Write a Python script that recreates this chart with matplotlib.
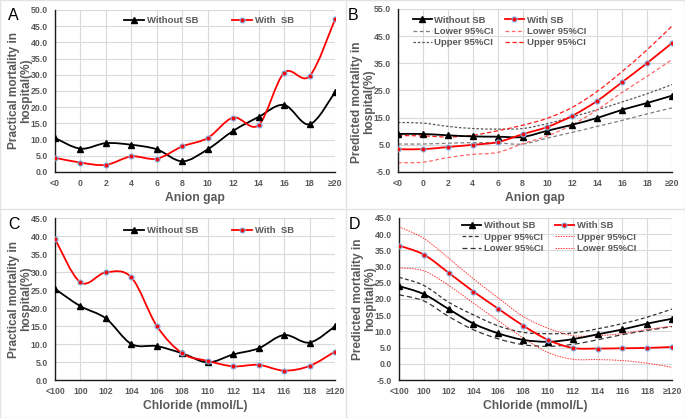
import matplotlib
matplotlib.use("Agg")
import matplotlib.pyplot as plt
from matplotlib.path import Path
from matplotlib.patches import PathPatch
from matplotlib.lines import Line2D

plt.rcParams['font.family'] = ['Liberation Sans', 'DejaVu Sans']

# ---------------- data ----------------
ag_labels = ['<0', '0', '2', '4', '6', '8', '10', '12', '14', '16', '18', '≥20']
cl_labels = ['<100', '100', '102', '104', '106', '108', '110', '112', '114', '116', '118', '≥120']

# Panel A: practical mortality vs anion gap
a_without = [10.5, 7.2, 8.9, 8.4, 7.0, 3.3, 7.0, 12.7, 17.0, 20.7, 14.7, 24.6]
a_with = [4.4, 2.9, 2.2, 4.8, 4.1, 7.9, 10.5, 16.8, 14.5, 30.6, 29.6, 47.1]

# Panel B: predicted mortality vs anion gap
b_without = [9.0, 9.0, 8.5, 8.1, 8.0, 7.9, 10.2, 12.4, 14.9, 17.9, 20.4, 23.1]
b_with = [3.4, 3.4, 4.2, 5.0, 6.0, 8.9, 11.6, 15.7, 21.2, 28.1, 35.1, 42.5]
b_without_lo = [5.3, 5.3, 5.6, 5.8, 5.7, 5.3, 7.5, 9.6, 11.8, 14.0, 16.4, 18.6]
b_without_hi = [13.2, 13.0, 11.8, 11.0, 10.8, 11.0, 12.8, 15.3, 17.9, 20.8, 23.8, 27.2]
b_with_lo = [-1.6, -1.4, 0.3, 1.5, 2.2, 5.4, 8.3, 12.4, 17.9, 24.3, 30.2, 36.4]
b_with_hi = [8.4, 8.3, 7.9, 8.5, 10.2, 12.2, 14.8, 18.8, 24.7, 32.0, 40.0, 48.7]

# Panel C: practical mortality vs chloride
c_without = [25.3, 20.5, 17.1, 10.0, 9.4, 7.4, 4.9, 7.1, 8.8, 12.5, 10.4, 14.9]
c_with = [39.2, 27.1, 29.9, 28.5, 15.0, 7.4, 5.3, 3.8, 4.2, 2.6, 3.9, 7.9]

# Panel D: predicted mortality vs chloride
d_without = [24.0, 21.5, 16.9, 12.4, 9.4, 7.4, 6.8, 7.6, 9.1, 10.6, 12.4, 13.9]
d_with = [36.5, 33.7, 28.1, 22.3, 17.0, 11.8, 7.4, 4.9, 4.7, 4.8, 4.9, 5.2]
d_without_hi = [26.7, 24.2, 19.0, 15.1, 11.7, 9.7, 9.3, 9.5, 10.8, 12.4, 14.4, 16.9]
d_without_lo = [21.3, 19.4, 14.6, 10.5, 7.7, 5.9, 5.4, 6.0, 7.4, 9.0, 10.3, 11.5]
d_with_hi = [42.3, 38.7, 32.6, 26.2, 20.3, 14.6, 11.0, 8.7, 8.7, 9.3, 10.6, 11.6]
d_with_lo = [29.6, 28.7, 24.2, 18.7, 13.3, 8.0, 3.5, 1.4, 1.3, 1.0, 0.2, -1.1]

# ---------------- style ----------------
RED = '#ff0000'
GRAY_TXT = '#595959'
GRID = '#d9d9d9'
W, H = 685, 418

fig = plt.figure(figsize=(6.85, 4.18), dpi=100)


def ax_at(l, t, r, b):
    return fig.add_axes([l / W, 1 - b / H, (r - l) / W, (b - t) / H])


def smooth(ax, y, color, lw, dashes=None, zorder=3):
    x = list(range(len(y)))
    n = len(x)
    verts = [(x[0], y[0])]
    codes = [Path.MOVETO]
    for i in range(n - 1):
        p0 = i - 1 if i > 0 else i
        p3 = i + 2 if i + 2 < n else i + 1
        c1 = (x[i] + (x[i + 1] - x[p0]) / 6.0, y[i] + (y[i + 1] - y[p0]) / 6.0)
        c2 = (x[i + 1] - (x[p3] - x[i]) / 6.0, y[i + 1] - (y[p3] - y[i]) / 6.0)
        verts += [c1, c2, (x[i + 1], y[i + 1])]
        codes += [Path.CURVE4] * 3
    patch = PathPatch(Path(verts, codes), fill=False, edgecolor=color, lw=lw,
                      zorder=zorder, capstyle='butt')
    if dashes is not None:
        patch.set_linestyle((0, dashes))
    ax.add_patch(patch)


def markers_without(ax, y):
    ax.plot(range(len(y)), y, ls='none', marker='^', ms=4.5, color='black', zorder=5)


def markers_with(ax, y):
    ax.plot(range(len(y)), y, ls='none', marker='o', ms=3.6, mfc=RED,
            mec='#7fb2e5', mew=0.8, zorder=5)


def setup(ax, labels, ymin, ymax, step, ylabel, xlabel, label_y=0.5):
    ax.set_xlim(0, len(labels) - 1)
    ax.set_ylim(ymin, ymax)
    ax.set_xticks(range(len(labels)))
    ax.set_xticklabels(labels)
    ticks = []
    v = ymin
    while v <= ymax + 1e-9:
        ticks.append(v)
        v += step
    ax.set_yticks(ticks)
    ax.set_yticklabels([f'{t:.1f}' for t in ticks])
    ax.grid(True, color=GRID, lw=0.8, zorder=0)
    ax.set_axisbelow(True)
    for s in ['top', 'right']:
        ax.spines[s].set_visible(False)
    for s in ['left', 'bottom']:
        ax.spines[s].set_color('#1a1a1a')
        ax.spines[s].set_linewidth(1.0)
        ax.spines[s].set_zorder(4)
    ax.tick_params(length=0, labelsize=6.3, labelcolor=GRAY_TXT, pad=5)
    for lab in ax.get_xticklabels() + ax.get_yticklabels():
        lab.set_fontweight('bold')
    ax.set_ylabel(ylabel, fontsize=8.6, fontweight='bold', color=GRAY_TXT,
                  labelpad=-1, linespacing=1.05, y=label_y)
    ax.set_xlabel(xlabel, fontsize=8.7, fontweight='bold', color=GRAY_TXT, labelpad=3)


def h_without():
    return Line2D([], [], color='black', lw=1.3, marker='^', ms=4.5)


def h_with():
    return Line2D([], [], color=RED, lw=1.3, marker='o', ms=3.6, mfc=RED,
                  mec='#7fb2e5', mew=0.8)


def legend(ax, handles, labels, ncol, anchor, hl=2.0, cs=1.5):
    lg = ax.legend(handles, labels, ncol=ncol, loc='upper center',
                   bbox_to_anchor=anchor, frameon=False,
                   prop={'size': 6.8, 'weight': 'bold'}, handlelength=hl,
                   columnspacing=cs, labelspacing=0.25, handletextpad=0.3,
                   borderaxespad=0, borderpad=0)
    for t in lg.get_texts():
        t.set_color(GRAY_TXT)
    return lg


PRACT = 'Practical mortality in\nhospital(%)'
PRED = 'Predicted mortality in\nhospital(%)'

# ---------------- Panel A ----------------
axA = ax_at(55, 10, 335, 172)
setup(axA, ag_labels, 0, 50, 5, PRACT, 'Anion gap')
smooth(axA, a_without, 'black', 1.3)
smooth(axA, a_with, RED, 1.3)
markers_without(axA, a_without)
markers_with(axA, a_with)
legend(axA, [h_without(), h_with()], ['Without SB', 'With  SB'], 2, (0.55, 0.96), hl=2.2, cs=3.5)

# ---------------- Panel B ----------------
axB = ax_at(398, 9, 672, 172)
setup(axB, ag_labels, -5, 55, 10, PRED, 'Anion gap', label_y=0.43)
smooth(axB, b_without_lo, '#7f7f7f', 0.9, (3, 2), zorder=2)
smooth(axB, b_without_hi, '#595959', 0.9, (2, 1.5), zorder=2)
smooth(axB, b_with_lo, '#ff6666', 0.9, (3, 2), zorder=2)
smooth(axB, b_with_hi, '#ff1a1a', 0.9, (3.5, 2), zorder=2)
smooth(axB, b_without, 'black', 1.3)
smooth(axB, b_with, RED, 1.3)
markers_without(axB, b_without)
markers_with(axB, b_with)
hB = [h_without(),
      Line2D([], [], color='#7f7f7f', lw=0.9, dashes=(3, 2)),
      Line2D([], [], color='#595959', lw=0.9, dashes=(2, 1.5)),
      h_with(),
      Line2D([], [], color='#ff6666', lw=0.9, dashes=(3, 2)),
      Line2D([], [], color='#ff1a1a', lw=0.9, dashes=(3.5, 2))]
legend(axB, hB, ['Without SB', 'Lower 95%CI', 'Upper 95%CI',
                 'With SB', 'Lower 95%CI', 'Upper 95%CI'], 2, (0.37, 0.96), hl=2.0, cs=1.2)

# ---------------- Panel C ----------------
axC = ax_at(55, 218, 335, 380)
setup(axC, cl_labels, 0, 45, 5, PRACT, 'Chloride (mmol/L)')
smooth(axC, c_without, 'black', 1.3)
smooth(axC, c_with, RED, 1.3)
markers_without(axC, c_without)
markers_with(axC, c_with)
legend(axC, [h_without(), h_with()], ['Without SB', 'With  SB'], 2, (0.55, 0.95), hl=2.2, cs=3.5)

# ---------------- Panel D ----------------
axD = ax_at(399, 218, 672, 380)
setup(axD, cl_labels, -5, 45, 5, PRED, 'Chloride (mmol/L)')
smooth(axD, d_without_hi, '#333333', 0.9, (3, 2), zorder=2)
smooth(axD, d_without_lo, '#333333', 0.9, (4, 2.5), zorder=2)
smooth(axD, d_with_hi, '#ff3333', 0.7, (1.5, 1.2), zorder=2)
smooth(axD, d_with_lo, '#ff3333', 0.7, (1.5, 1.2), zorder=2)
smooth(axD, d_without, 'black', 1.3)
smooth(axD, d_with, RED, 1.3)
markers_without(axD, d_without)
markers_with(axD, d_with)
hD = [h_without(),
      Line2D([], [], color='#333333', lw=0.9, dashes=(3, 2)),
      Line2D([], [], color='#333333', lw=0.9, dashes=(4, 2.5)),
      h_with(),
      Line2D([], [], color='#ff3333', lw=0.7, dashes=(1.5, 1.2)),
      Line2D([], [], color='#ff3333', lw=0.7, dashes=(1.5, 1.2))]
legend(axD, hD, ['Without SB', 'Upper 95%CI', 'Lower 95%CI',
                 'With SB', 'Upper 95%CI', 'Lower 95%CI'], 2, (0.55, 0.98), hl=2.0, cs=1.2)

# ---------------- panel letters & separators ----------------
for letter, (px, py) in zip('ABCD', [(8, 8), (348, 8), (8, 217), (349, 217)]):
    fig.text(px / W, 1 - py / H, letter, fontsize=11.5, va='top', ha='left', color='black')

sep = '#e3e3e3'
fig.add_artist(Line2D([346 / W, 346 / W], [0, 1], color=sep, lw=1.0, transform=fig.transFigure))
fig.add_artist(Line2D([0, 1], [1 - 209 / H, 1 - 209 / H], color=sep, lw=1.0, transform=fig.transFigure))
fig.add_artist(Line2D([0, 1, 1, 0, 0], [0.001, 0.001, 0.999, 0.999, 0.001], color=sep, lw=1.0,
                      transform=fig.transFigure))

fig.savefig('out.png', dpi=100)
